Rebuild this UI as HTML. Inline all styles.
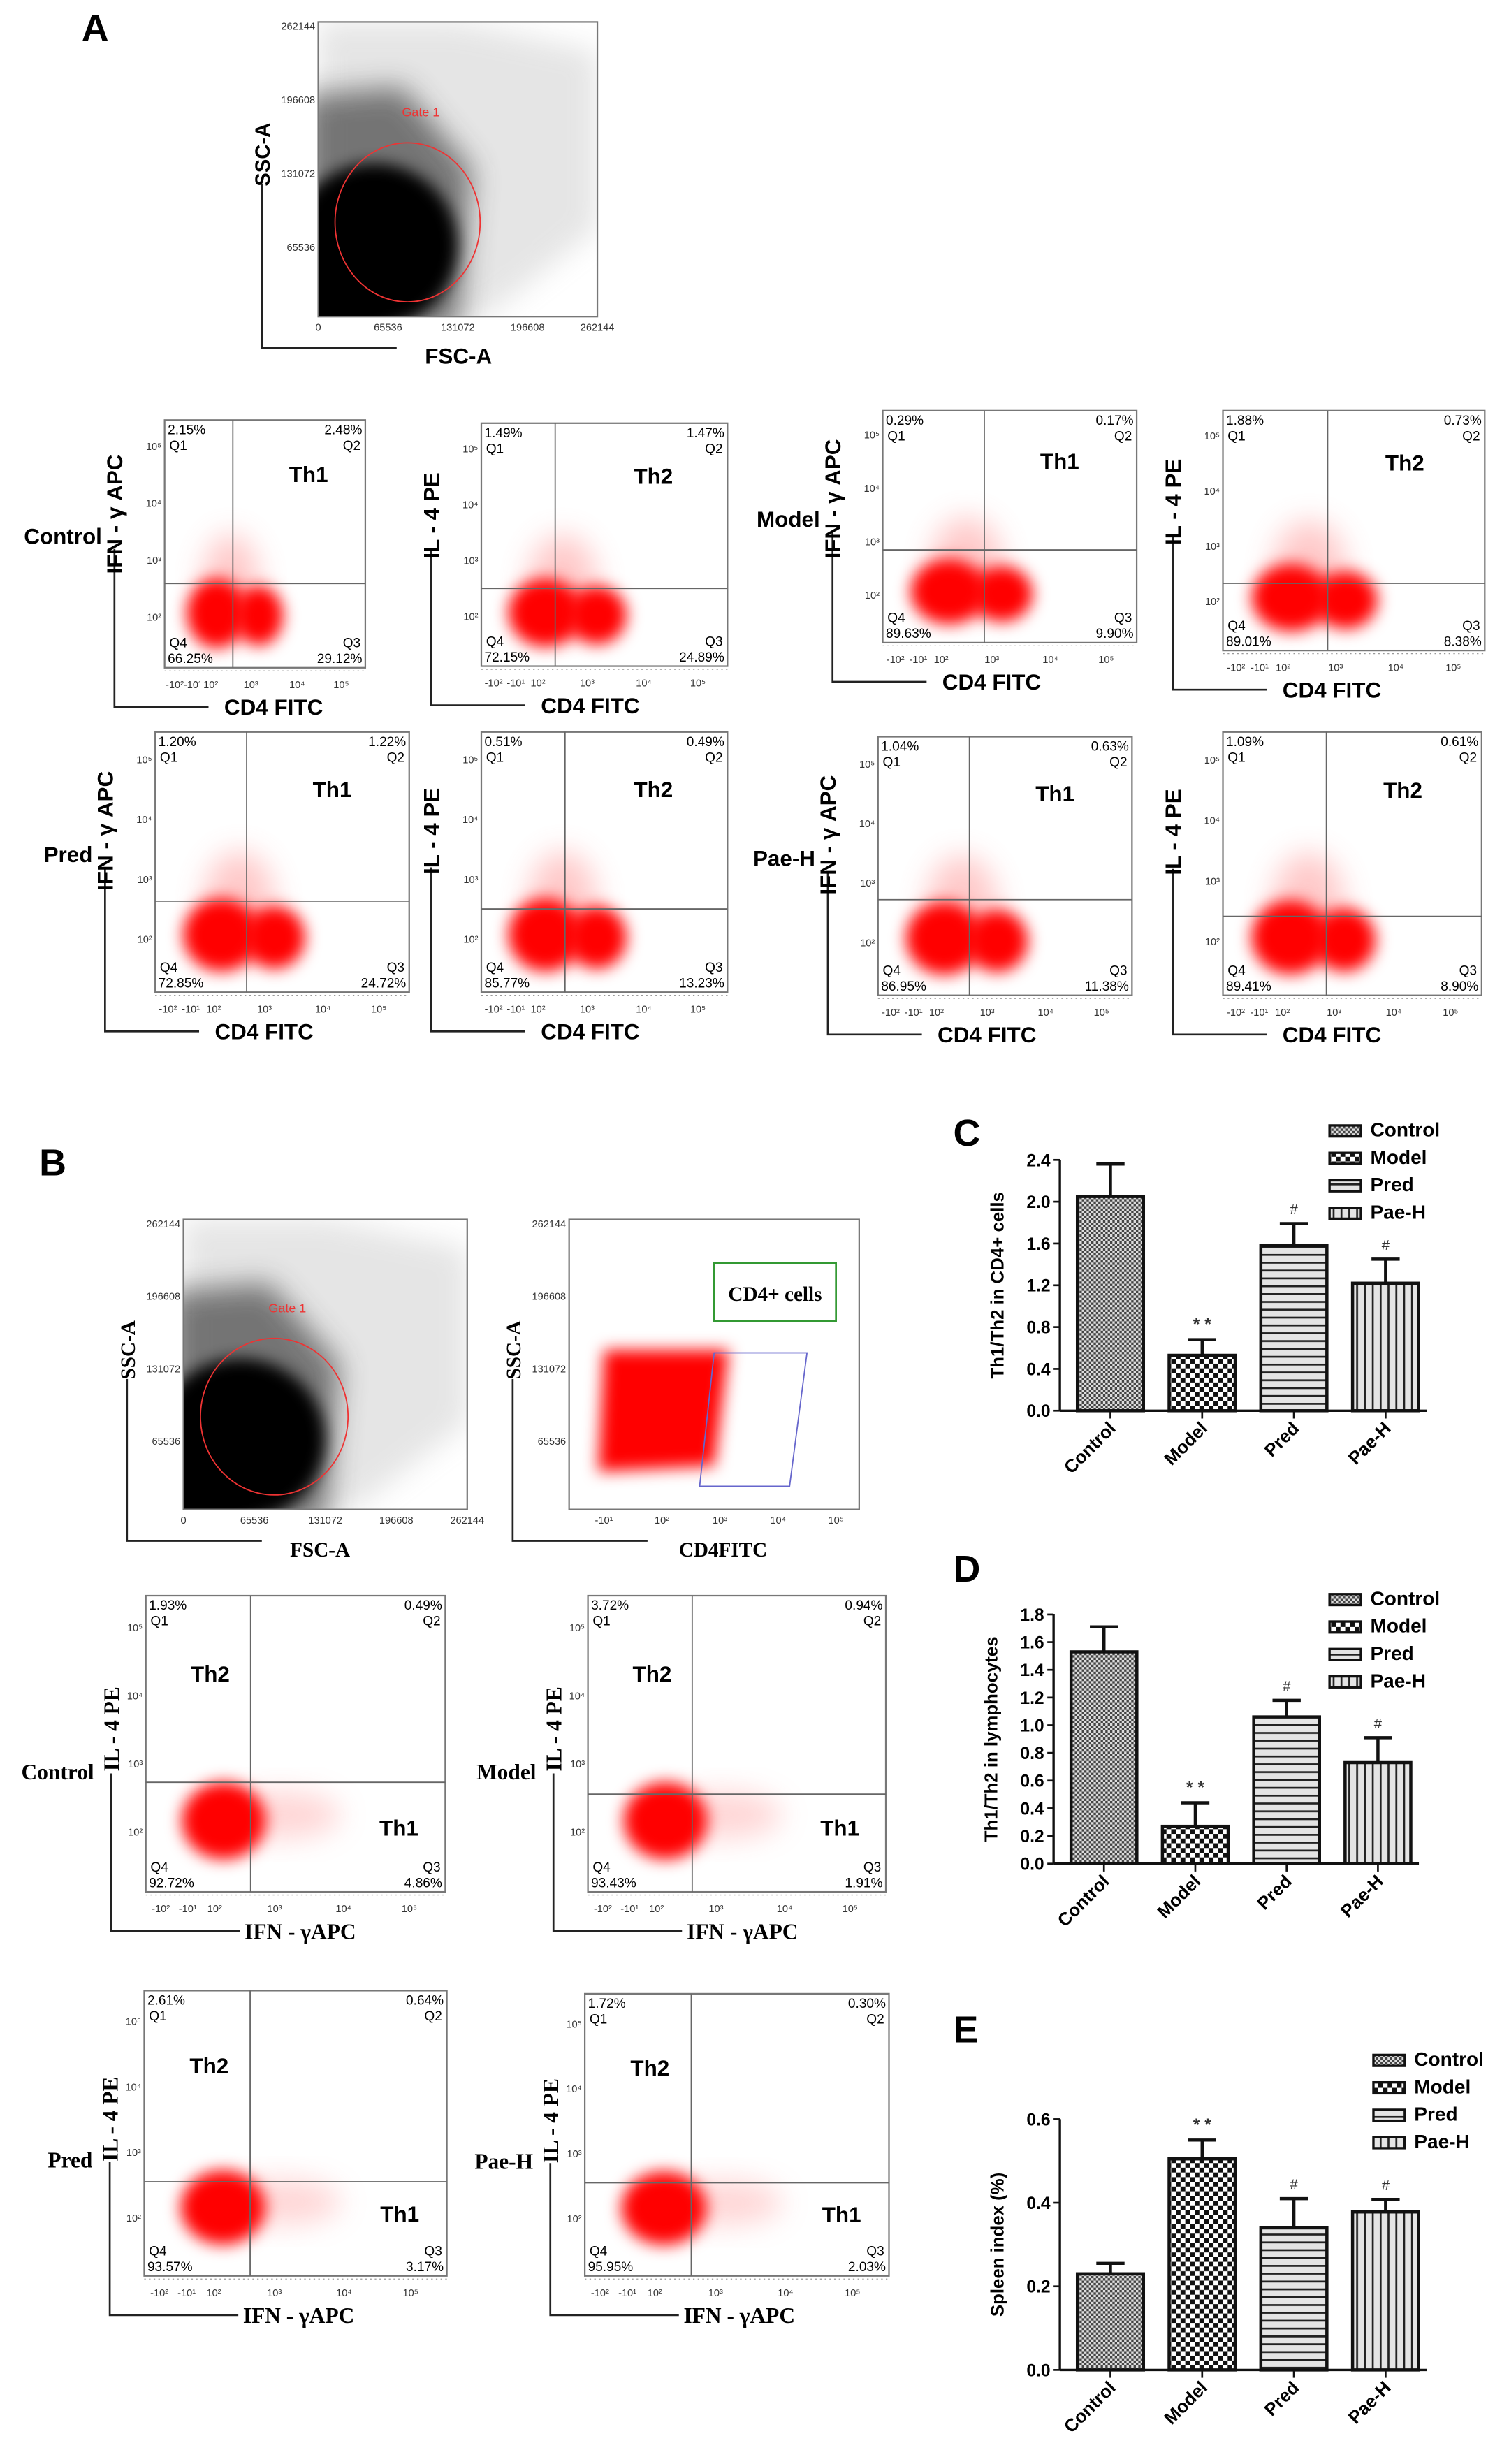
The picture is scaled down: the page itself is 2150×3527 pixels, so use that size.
<!DOCTYPE html>
<html><head><meta charset="utf-8"><style>
html,body{margin:0;padding:0;background:#fff}
svg{display:block}
.s{font-family:"Liberation Sans",sans-serif}
.r{font-family:"Liberation Serif",serif}
</style></head><body>
<svg id="fig" xmlns="http://www.w3.org/2000/svg" width="2150" height="3527" viewBox="0 0 958 1572" preserveAspectRatio="none">
<defs>
<filter id="bl" x="-50%" y="-50%" width="200%" height="200%"><feGaussianBlur stdDeviation="5"/></filter>
<filter id="bl2" x="-50%" y="-50%" width="200%" height="200%"><feGaussianBlur stdDeviation="9"/></filter>
<pattern id="pCtrl" width="3" height="3" patternUnits="userSpaceOnUse"><rect width="3" height="3" fill="#ddd"/><rect width="1.5" height="1.5" fill="#444"/><rect x="1.5" y="1.5" width="1.5" height="1.5" fill="#444"/></pattern>
<pattern id="pModel" width="6" height="6" patternUnits="userSpaceOnUse"><rect width="6" height="6" fill="#fff"/><rect width="3" height="3" fill="#111"/><rect x="3" y="3" width="3" height="3" fill="#111"/></pattern>
<pattern id="pPred" width="6" height="5" patternUnits="userSpaceOnUse"><rect width="6" height="5" fill="#e4e4e4"/><rect y="0" width="6" height="1.2" fill="#222"/></pattern>
<pattern id="pPae" width="5" height="6" patternUnits="userSpaceOnUse"><rect width="5" height="6" fill="#e4e4e4"/><rect x="0" width="1.2" height="6" fill="#222"/></pattern>
<clipPath id="cgA"><rect x="203" y="14" width="178" height="188"/></clipPath>
<clipPath id="cgB"><rect x="117" y="778" width="181" height="185"/></clipPath>
</defs>
<g id="root"></g>
</svg>
<script>
const NS="http://www.w3.org/2000/svg";
const root=document.getElementById('root');
function el(tag,attrs,parent,txt){const e=document.createElementNS(NS,tag);for(const k in attrs)e.setAttribute(k,attrs[k]);if(txt!==undefined)e.textContent=txt;(parent||root).appendChild(e);return e;}
function T(x,y,s,size,cls,extra){const e=el('text',Object.assign({x:x,y:y,'font-size':size,class:cls||'s'},extra||{}),root,s);return e;}

const flowA=[
 {n:'control-th1',b:[105,268,233,426],q:[0.34,0.66],p:['2.15%','2.48%','29.12%','66.25%'],th:'Th1',yl:'IFN - γ APC',row:'Control'},
 {n:'control-th2',b:[307,270,464,425],q:[0.3,0.68],p:['1.49%','1.47%','24.89%','72.15%'],th:'Th2',yl:'IL - 4 PE'},
 {n:'model-th1',b:[563,262,725,410],q:[0.4,0.6],p:['0.29%','0.17%','9.90%','89.63%'],th:'Th1',yl:'IFN - γ APC',row:'Model'},
 {n:'model-th2',b:[780,262,947,415],q:[0.4,0.72],p:['1.88%','0.73%','8.38%','89.01%'],th:'Th2',yl:'IL - 4 PE'},
 {n:'pred-th1',b:[99,467,261,633],q:[0.36,0.65],p:['1.20%','1.22%','24.72%','72.85%'],th:'Th1',yl:'IFN - γ APC',row:'Pred'},
 {n:'pred-th2',b:[307,467,464,633],q:[0.34,0.68],p:['0.51%','0.49%','13.23%','85.77%'],th:'Th2',yl:'IL - 4 PE'},
 {n:'paeh-th1',b:[560,470,722,635],q:[0.36,0.63],p:['1.04%','0.63%','11.38%','86.95%'],th:'Th1',yl:'IFN - γ APC',row:'Pae-H'},
 {n:'paeh-th2',b:[780,467,945,635],q:[0.4,0.7],p:['1.09%','0.61%','8.90%','89.41%'],th:'Th2',yl:'IL - 4 PE'}
];
const flowB=[
 {n:'b-control',b:[93,1018,284,1207],q:[0.35,0.63],p:['1.93%','0.49%','4.86%','92.72%'],row:'Control'},
 {n:'b-model',b:[375,1018,565,1207],q:[0.35,0.67],p:['3.72%','0.94%','1.91%','93.43%'],row:'Model'},
 {n:'b-pred',b:[92,1270,285,1452],q:[0.35,0.67],p:['2.61%','0.64%','3.17%','93.57%'],row:'Pred'},
 {n:'b-paeh',b:[373,1272,567,1452],q:[0.35,0.67],p:['1.72%','0.30%','2.03%','95.95%'],row:'Pae-H'}
];
function flow(f,typeB){
 const g=el('g',{});
 
 
 const [x0,y0,x1,y1]=f.b,w=x1-x0,h=y1-y0;
 const qx=x0+f.q[0]*w,qy=y0+f.q[1]*h;
 if(!typeB){
  el('ellipse',{cx:x0+0.33*w,cy:y0+0.66*h,rx:0.14*w,ry:0.2*h,fill:'#f88',opacity:0.45,filter:'url(#bl2)'},g);
  el('ellipse',{cx:x0+0.26*w,cy:y0+0.78*h,rx:0.15*w,ry:0.14*h,fill:'#f00',filter:'url(#bl)'},g);
  el('ellipse',{cx:x0+0.47*w,cy:y0+0.79*h,rx:0.12*w,ry:0.12*h,fill:'#f00',filter:'url(#bl)'},g);
 } else {
  el('ellipse',{cx:x0+0.45*w,cy:y0+0.74*h,rx:0.2*w,ry:0.08*h,fill:'#f99',opacity:0.4,filter:'url(#bl2)'},g);
  el('ellipse',{cx:x0+0.26*w,cy:y0+0.76*h,rx:0.14*w,ry:0.13*h,fill:'#f00',filter:'url(#bl)'},g);
 }
 el('rect',{x:x0,y:y0,width:w,height:h,fill:'none',stroke:'#777','stroke-width':1},g);
 el('line',{x1:qx,y1:y0,x2:qx,y2:y1,stroke:'#666','stroke-width':0.8},g);
 el('line',{x1:x0,y1:qy,x2:x1,y2:qy,stroke:'#666','stroke-width':0.8},g);
 T(x0+2,y0+9,f.p[0],8.5);T(x0+3,y0+19,'Q1',8.5);
 T(x1-2,y0+9,f.p[1],8.5,'s',{'text-anchor':'end'});T(x1-3,y0+19,'Q2',8.5,'s',{'text-anchor':'end'});
 T(x1-3,y1-13,'Q3',8.5,'s',{'text-anchor':'end'});T(x1-2,y1-3,f.p[2],8.5,'s',{'text-anchor':'end'});
 T(x0+3,y1-13,'Q4',8.5);T(x0+2,y1-3,f.p[3],8.5);
 const tl=['-10²','-10¹','10²','10³','10⁴','10⁵'];const tf=[0.05,0.14,0.23,0.43,0.66,0.88];
 tl.forEach((t,i)=>T(x0+tf[i]*w,y1+13,t,6.5,'s',{'text-anchor':'middle',fill:'#333'}));
 ['10⁵','10⁴','10³','10²'].forEach((t,i)=>T(x0-2,y0+(0.12+0.23*i)*h,t,6.5,'s',{'text-anchor':'end',fill:'#333'}));
 el('line',{x1:x0,y1:y1+2,x2:x1,y2:y1+2,stroke:'#999','stroke-width':0.6,'stroke-dasharray':'1 2'},g);
 if(!typeB){
  T(x0+0.62*w,y0+0.25*h,f.th,14,'s',{'font-weight':'bold'});
  el('polyline',{points:`${x0-32},${y0+0.52*h} ${x0-32},${y1+25} ${x0+28},${y1+25}`,fill:'none',stroke:'#222','stroke-width':1.2},g);
  T(x0+38,y1+30,'CD4 FITC',14,'s',{'font-weight':'bold'});
  const yc=y0+0.38*h;
  T(x0-27,yc,f.yl,14,'s',{'font-weight':'bold','text-anchor':'middle',transform:`rotate(-90 ${x0-27} ${yc})`});
  if(f.row)T(x0-40,y0+0.5*h,f.row,14,'s',{'font-weight':'bold','text-anchor':'end'});
 } else {
  T(x0+0.15*w,y0+0.29*h,'Th2',14,'s',{'font-weight':'bold'});
  T(x0+0.78*w,y0+0.81*h,'Th1',14,'s',{'font-weight':'bold'});
  el('polyline',{points:`${x0-22},${y0+0.6*h} ${x0-22},${y1+25} ${x0+60},${y1+25}`,fill:'none',stroke:'#222','stroke-width':1.2},g);
  T(x0+63,y1+30,'IFN - γAPC',14,'r',{'font-weight':'bold'});
  const yc=y0+0.45*h;
  T(x0-17,yc,'IL - 4 PE',14,'r',{'font-weight':'bold','text-anchor':'middle',transform:`rotate(-90 ${x0-17} ${yc})`});
  T(x0-33,y0+0.62*h,f.row,14,'r',{'font-weight':'bold','text-anchor':'end'});
 }
}
flowA.forEach(f=>flow(f,false));
flowB.forEach(f=>flow(f,true));

function gate(n,x0,y0,x1,y1,xl,yl,cd4,clip){
 const g=el('g',{});
 
 
 const w=x1-x0,h=y1-y0;
 if(!cd4){
  const c=el('g',{'clip-path':clip},g);
  el('path',{d:`M${x0} ${y0} L${x0+0.5*w} ${y0} L${x1} ${y0+0.1*h} L${x1} ${y0+0.7*h} L${x0+0.6*w} ${y1} L${x0} ${y1} Z`,fill:'#999',opacity:0.25,filter:'url(#bl2)'},c);
  el('path',{d:`M${x0-10} ${y0+0.25*h} L${x0+0.3*w} ${y0+0.22*h} L${x0+0.55*w} ${y0+0.5*h} L${x0+0.5*w} ${y1+10} L${x0-10} ${y1+10} Z`,fill:'#444',opacity:0.7,filter:'url(#bl2)'},c);
  el('ellipse',{cx:x0+0.2*w,cy:y0+0.76*h,rx:0.3*w,ry:0.28*h,fill:'#000',filter:'url(#bl)'},c);
  el('ellipse',{cx:x0+0.05*w,cy:y0+0.9*h,rx:0.2*w,ry:0.2*h,fill:'#000',filter:'url(#bl)'},c);
  el('ellipse',{cx:x0+0.32*w,cy:y0+0.68*h,rx:0.26*w,ry:0.27*h,fill:'none',stroke:'#e33','stroke-width':0.8},g);
  T(x0+0.3*w,y0+0.32*h,'Gate 1',8,'s',{fill:'#e33'});
 } else {
  el('path',{d:`M${x0+0.12*w} ${y0+0.45*h} L${x0+0.55*w} ${y0+0.45*h} L${x0+0.5*w} ${y0+0.85*h} L${x0+0.1*w} ${y0+0.87*h} Z`,fill:'#f00',filter:'url(#bl)'},g);
  el('path',{d:`M${x0+0.5*w} ${y0+0.46*h} L${x0+0.82*w} ${y0+0.46*h} L${x0+0.76*w} ${y0+0.92*h} L${x0+0.45*w} ${y0+0.92*h} Z`,fill:'none',stroke:'#66c','stroke-width':0.8},g);
  el('rect',{x:x0+0.5*w,y:y0+0.15*h,width:0.42*w,height:0.2*h,fill:'#fff',stroke:'#393','stroke-width':1.2},g);
  T(x0+0.71*w,y0+0.28*h,'CD4+ cells',13,'r',{'font-weight':'bold','text-anchor':'middle'});
 }
 el('rect',{x:x0,y:y0,width:w,height:h,fill:'none',stroke:'#777','stroke-width':1},g);
 const tick=cd4?['-10¹','10²','10³','10⁴','10⁵']:['0','65536','131072','196608','262144'];
 tick.forEach((t,i)=>T(x0+(cd4?0.12+0.2*i:0.25*i)*w,y1+9,t,6.5,'s',{'text-anchor':'middle',fill:'#333'}));
 ['262144','196608','131072','65536'].forEach((t,i)=>T(x0-2,y0+5+0.25*i*h,t,6.5,'s',{'text-anchor':'end',fill:'#333'}));
 const serif=n.startsWith('b');
 el('polyline',{points:`${x0-36},${y0+0.55*h} ${x0-36},${y1+20} ${x0+50},${y1+20}`,fill:'none',stroke:'#222','stroke-width':1.2},g);
 T(x0+(cd4?70:68),y1+30,xl,serif?13:14,serif?'r':'s',{'font-weight':'bold'});
 const yc=y0+0.45*h;
 T(x0-31,yc,yl,13,serif?'r':'s',{'font-weight':'bold','text-anchor':'middle',transform:`rotate(-90 ${x0-31} ${yc})`});
}
gate('a-gate-plot',203,14,381,202,'FSC-A','SSC-A',false,'url(#cgA)');
gate('b-gate-plot',117,778,298,963,'FSC-A','SSC-A',false,'url(#cgB)');
gate('b-cd4-plot',363,778,548,963,'CD4FITC','SSC-A',true,'');

[['A',52,26],['B',25,750],['C',608,731],['D',608,1009],['E',608,1303]].forEach(p=>{
 const t=T(p[1],p[2],p[0],24,'s',{'font-weight':'bold'});
 
 
});

const categories=['Control','Model','Pred','Pae-H'];
const fills=['url(#pCtrl)','url(#pModel)','url(#pPred)','url(#pPae)'];
const cValues=[2.05,0.53,1.58,1.22];
const cErrors=[0.31,0.15,0.21,0.23];
const cMarks=['','* *','#','#'];
const cTicks=[0,0.4,0.8,1.2,1.6,2.0,2.4];
const dValues=[1.53,0.27,1.06,0.73];
const dErrors=[0.18,0.17,0.12,0.18];
const dMarks=['','* *','#','#'];
const dTicks=[0,0.2,0.4,0.6,0.8,1.0,1.2,1.4,1.6,1.8];
const eValues=[0.23,0.505,0.34,0.378];
const eErrors=[0.025,0.045,0.07,0.03];
const eMarks=['','* *','#','#'];
const eTicks=[0,0.2,0.4,0.6];

function barChart(n,ax,y0px,y1px,vmax,xEnd,vals,errs,marks,ticks,dec,ylab,legX,legY){
 const g=el('g',{});
 
 
 const ys=v=>y0px-(v/vmax)*(y0px-y1px);
 const step=(xEnd-ax)/4,bw=step*0.72;
 el('line',{x1:ax,y1:y0px,x2:ax,y2:y1px,stroke:'#111','stroke-width':1.5},g);
 el('line',{x1:ax,y1:y0px,x2:xEnd,y2:y0px,stroke:'#111','stroke-width':1.5},g);
 ticks.forEach(t=>{
  el('line',{x1:ax-4,y1:ys(t),x2:ax,y2:ys(t),stroke:'#111','stroke-width':1.2},g);
  const tt=T(ax-6,ys(t)+4,t.toFixed(dec),11,'s',{'font-weight':'bold','text-anchor':'end'});
  
  
 });
 const yc=(y0px+y1px)/2;
 const yt=T(ax-36,yc,ylab,11.5,'s',{'font-weight':'bold','text-anchor':'middle',transform:`rotate(-90 ${ax-36} ${yc})`});
 
 
 vals.forEach((v,i)=>{
  const cx=ax+step*(i+0.5)+3;
  const r=el('rect',{x:cx-bw/2,y:ys(v),width:bw,height:y0px-ys(v),fill:fills[i],stroke:'#111','stroke-width':2},g);
  
  
  const top=ys(v+errs[i]);
  const e=el('path',{d:`M${cx} ${ys(v)} V${top} M${cx-9} ${top} H${cx+9}`,stroke:'#111','stroke-width':2,fill:'none'},g);
  
  
  if(marks[i]){const m=T(cx,top-6,marks[i],i===1?11:9,'s',{'text-anchor':'middle','font-weight':i===1?'bold':'normal',fill:'#333'});
   
   }
  el('line',{x1:cx,y1:y0px,x2:cx,y2:y0px+5,stroke:'#111','stroke-width':1.2},g);
  const lx=cx+4,ly=y0px+12;
  const lt=T(lx,ly,categories[i],11.5,'s',{'font-weight':'bold','text-anchor':'end',transform:`rotate(-45 ${lx} ${ly})`});
  
  
  const ly2=legY+i*17.5;
  const lr=el('rect',{x:legX,y:ly2-7,width:20,height:7,fill:fills[i],stroke:'#111','stroke-width':1.5},g);
  
  
  const le=T(legX+26,ly2,categories[i],12.5,'s',{'font-weight':'bold'});
  
  
 });
}
barChart('chart-c',676,900,740,2.4,910,cValues,cErrors,cMarks,cTicks,1,'Th1/Th2 in CD4+ cells',848,725);
barChart('chart-d',672,1189,1030,1.8,905,dValues,dErrors,dMarks,dTicks,1,'Th1/Th2 in lymphocytes',848,1024);
barChart('chart-e',676,1512,1352,0.6,910,eValues,eErrors,eMarks,eTicks,1,'Spleen index (%)',876,1318);
</script>
</body></html>
